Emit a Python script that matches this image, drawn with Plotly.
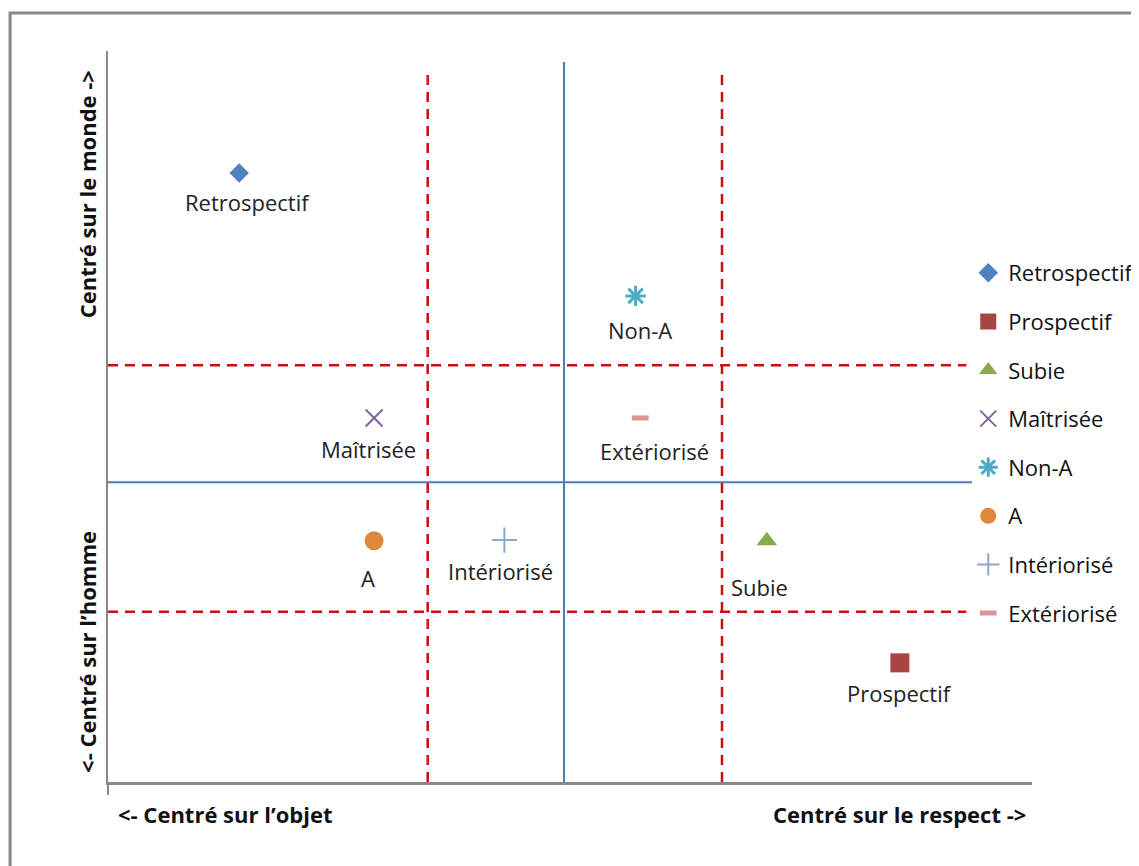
import plotly.graph_objects as go

# series (one point each) on a 0-10 / 0-10 grid
names = ['Retrospectif', 'Prospectif', 'Subie', 'Maîtrisée', 'Non-A', 'A', 'Intériorisé', 'Extériorisé']
x_vals = [1.42, 8.57, 7.13, 2.88, 5.71, 2.88, 4.29, 5.76]
y_vals = [8.33, 1.63, 3.30, 4.98, 6.65, 3.30, 3.31, 4.98]

# quadrant separators
main_x = 4.935
main_y = 4.10
dash_x = [3.46, 6.645]
dash_y = [5.70, 2.33]

FONT = 'Open Sans'

symbols = ['diamond', 'square', 'triangle-up', 'x-thin-open', 'asterisk-open', 'circle', 'cross-thin-open',
           'line-ew-open']
colors = ['#4F81BD', '#A94442', '#8AAA4C', '#8064A2', '#4BACC6', '#E0873E', '#8EA7D0', '#D99694']
sizes = [15, 19, 18, 17, 17, 19, 18, 12]
line_w = [0, 0, 0, 2, 3, 0, 2, 5]
# label nudges (px) relative to each marker
label_dx = [8, 0, -7, -6, 4, -6, -4, 14]
label_dy = [-29, -30, -46, -31, -34, -37, -31, -33]

fig = go.Figure()
for i, n in enumerate(names):
    fig.add_trace(go.Scatter(
        x=[x_vals[i]], y=[y_vals[i]], mode='markers', name=n, legendgroup=n,
        marker=dict(symbol=symbols[i], size=sizes[i], color=colors[i],
                    line=dict(width=line_w[i], color=colors[i]))))
    fig.add_annotation(x=x_vals[i], y=y_vals[i], text=n, showarrow=False, xshift=label_dx[i],
                       yshift=label_dy[i], font=dict(family=FONT, size=22, color='#222222'))

blue = '#4A7EBB'
red = '#C81010'
fig.add_shape(type='line', x0=main_x, x1=main_x, y0=0, y1=9.85, line=dict(color=blue, width=2))
fig.add_shape(type='line', x0=0, x1=9.35, y0=main_y, y1=main_y, line=dict(color=blue, width=2))
for v in dash_x:
    fig.add_shape(type='line', x0=v, x1=v, y0=0, y1=9.71, line=dict(color=red, width=2.5, dash='10px,7px'))
for v in dash_y:
    fig.add_shape(type='line', x0=0, x1=9.29, y0=v, y1=v, line=dict(color=red, width=2.5, dash='10px,7px'))

# outer frame
fig.add_shape(type='rect', xref='paper', yref='paper', x0=-0.106, x1=1.3, y0=-0.3, y1=1.052,
              line=dict(color='#888888', width=3))

title_font = dict(family=FONT, size=22, color='#111111')
fig.add_annotation(xref='paper', yref='paper', x=0.009, y=-0.044, xanchor='left', yanchor='middle',
                   text='<b><- Centré sur l’objet</b>', showarrow=False, font=title_font)
fig.add_annotation(xref='paper', yref='paper', x=0.996, y=-0.044, xanchor='right', yanchor='middle',
                   text='<b>Centré sur le respect -></b>', showarrow=False, font=title_font)
fig.add_annotation(xref='paper', yref='paper', x=-0.0227, y=0.804, textangle=-90, xanchor='center',
                   yanchor='middle', text='<b>Centré sur le monde -></b>', showarrow=False, font=title_font)
fig.add_annotation(xref='paper', yref='paper', x=-0.0227, y=0.178, textangle=-90, xanchor='center',
                   yanchor='middle', text='<b><- Centré sur l’homme</b>', showarrow=False, font=title_font)

fig.update_xaxes(range=[0, 10], showgrid=False, zeroline=False, showline=True, linecolor='#888888', linewidth=3,
                 tickvals=[0], ticks='outside', ticklen=10, tickcolor='#888888', tickwidth=2,
                 showticklabels=False)
fig.update_yaxes(range=[0, 10], showgrid=False, zeroline=False, showline=True, linecolor='#888888', linewidth=2,
                 showticklabels=False, ticks='')
fig.update_layout(
    width=1131, height=858, template='none', plot_bgcolor='white', paper_bgcolor='white',
    margin=dict(l=100, r=107, t=43, b=84, autoexpand=False),
    legend=dict(x=0.931, y=0.725, xanchor='left', yanchor='top', font=dict(family=FONT, size=22, color='#111111'),
                tracegroupgap=17, itemwidth=30, bgcolor='rgba(0,0,0,0)'),
    showlegend=True,
)
fig.write_html('out.html')
